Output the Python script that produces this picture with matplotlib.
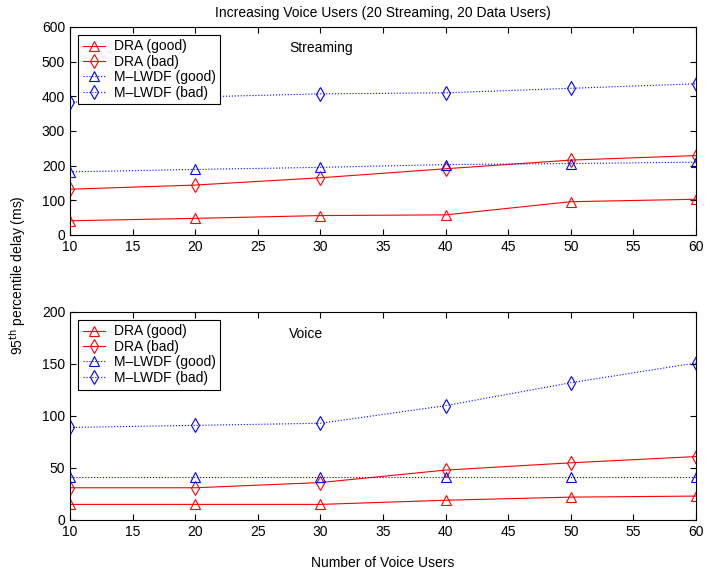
import matplotlib
matplotlib.use("Agg")
import matplotlib.pyplot as plt

plt.rcParams["font.family"] = ["Liberation Sans", "DejaVu Sans"]
plt.rcParams["font.size"] = 10

voice_users = [10, 20, 30, 40, 50, 60]

# streaming delay, ms
stream_dra_good = [41, 48, 56, 58, 96, 103]
stream_dra_bad = [132, 144, 165, 191, 216, 229]
stream_mlwdf_good = [182, 189, 195, 203, 206, 210]
stream_mlwdf_bad = [383, 398, 407, 410, 423, 436]

# voice delay, ms
voice_dra_good = [15, 15, 15, 19, 22, 23]
voice_dra_bad = [31, 31, 36, 48, 55, 61]
voice_mlwdf_good = [41, 41, 41, 41, 41, 41]
voice_mlwdf_bad = [89, 91, 93, 110, 132, 151]

labels = ["DRA (good)", "DRA (bad)", "M\u2013LWDF (good)", "M\u2013LWDF (bad)"]


def draw_panel(ax, series, ymax, ystep, tag, tag_y):
    styles = [("r-", "^", 6.5), ("r-", "d", 7.5), ("b:", "^", 6.5), ("b:", "d", 7.5)]
    for vals, (ls, mk, ms), lab in zip(series, styles, labels):
        ax.plot(voice_users, vals, ls, marker=mk, markersize=ms,
                markerfacecolor="none", linewidth=0.8, markeredgewidth=0.8,
                label=lab)
    ax.set_xlim(10, 60)
    ax.set_ylim(0, ymax)
    ax.set_xticks(range(10, 61, 5))
    ax.set_yticks(range(0, ymax + 1, ystep))
    ax.tick_params(direction="in", top=True, right=True, length=4)
    ax.text(27.5, tag_y, tag, va="center")
    leg = ax.legend(loc="upper left", fancybox=False, framealpha=1,
                    edgecolor="black", handlelength=1.65, borderpad=0.35,
                    borderaxespad=0.55, labelspacing=0.1, handletextpad=0.6)
    leg.get_frame().set_linewidth(0.8)


fig = plt.figure(figsize=(7.05, 5.73), dpi=100)
ax1 = fig.add_axes([0.0993, 0.5899, 0.888, 0.3631])
ax2 = fig.add_axes([0.0993, 0.0925, 0.888, 0.3630])

draw_panel(ax1, [stream_dra_good, stream_dra_bad, stream_mlwdf_good,
                 stream_mlwdf_bad], 600, 100, "Streaming", 540)
draw_panel(ax2, [voice_dra_good, voice_dra_bad, voice_mlwdf_good,
                 voice_mlwdf_bad], 200, 50, "Voice", 179)

fig.text(0.543, 0.977, "Increasing Voice Users (20 Streaming, 20 Data Users)",
         ha="center", va="center")
fig.text(0.543, 0.018, "Number of Voice Users", ha="center", va="center")
fig.text(0.025, 0.52, r"95$^{\mathrm{th}}$ percentile delay (ms)",
         rotation=90, ha="center", va="center")

fig.savefig("out.png", dpi=100)
